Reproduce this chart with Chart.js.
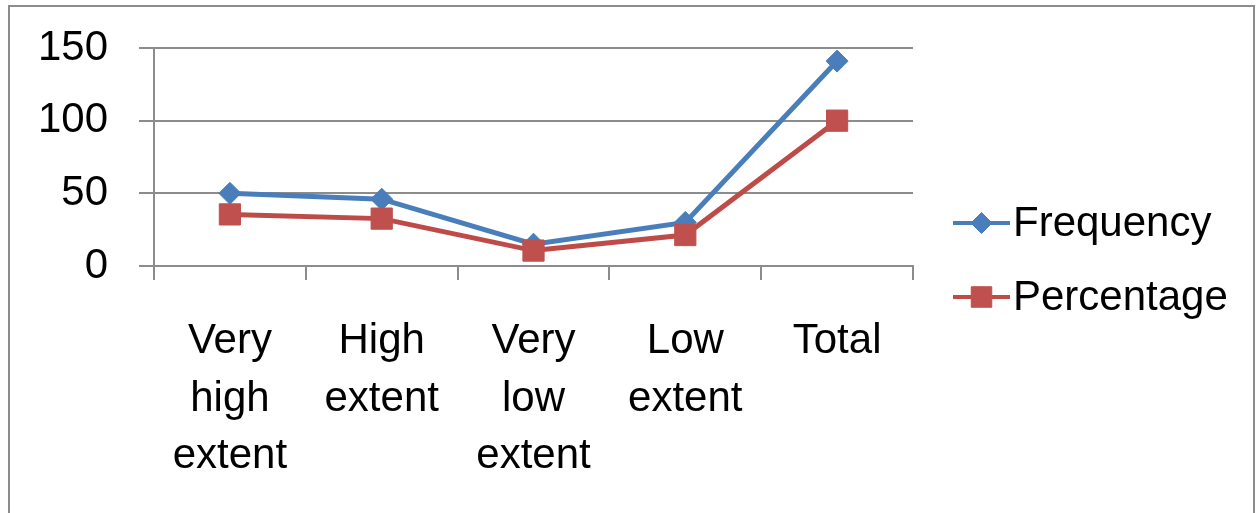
<!DOCTYPE html>
<html>
<head>
<meta charset="utf-8">
<script src="https://cdn.jsdelivr.net/npm/chart.js@4.4.0/dist/chart.umd.min.js"></script>
<style>
  html, body { margin: 0; padding: 0; background: #fff; overflow: hidden; width: 1257px; height: 513px; }
  #frame { position: absolute; left: 8px; top: 5px; width: 1243px; height: 600px; border: 2px solid #8c8c8c; box-sizing: content-box; }
  #wrap { position: absolute; left: 0; top: 0; width: 1257px; height: 513px; }
</style>
</head>
<body>
<div id="frame"></div>
<div id="wrap"><canvas id="c" width="1257" height="513"></canvas></div>
<script>
// Response categories (multi-line axis labels)
const categories = [
  ['Very', 'high', 'extent'],
  ['High', 'extent'],
  ['Very', 'low', 'extent'],
  ['Low', 'extent'],
  ['Total']
];
// Series values
const frequency = [50, 46, 15, 30, 141];
const percentage = [35.5, 32.6, 10.6, 21.3, 100];
// Value axis ticks
const yTicks = [0, 50, 100, 150];

const FONT = '"Liberation Sans", Arial, sans-serif';
const GRID = '#8c8c8c';
const BLUE = '#4A7EBB';
const RED = '#BE4B48';

// Legend drawn beside the plot: line sample with marker, then the series name
const sideLegend = {
  id: 'sideLegend',
  afterDraw(chart) {
    const ctx = chart.ctx;
    const area = chart.chartArea;
    const x0 = area.right + 40;
    chart.data.datasets.forEach((ds, i) => {
      const y = 223 + i * 74;
      ctx.save();
      ctx.strokeStyle = ds.borderColor;
      ctx.lineWidth = 4;
      ctx.lineCap = 'butt';
      ctx.beginPath();
      ctx.moveTo(x0, y);
      ctx.lineTo(x0 + 57, y);
      ctx.stroke();
      ctx.fillStyle = ds.pointBackgroundColor;
      ctx.strokeStyle = ds.pointBorderColor;
      ctx.lineWidth = 1;
      Chart.helpers.drawPoint(ctx, { pointStyle: ds.pointStyle, radius: ds.pointRadius - 0.5, borderWidth: 1, rotation: 0 }, x0 + 28.5, y);
      ctx.fillStyle = '#000';
      ctx.font = '42px ' + FONT;
      ctx.textBaseline = 'alphabetic';
      ctx.textAlign = 'left';
      ctx.fillText(ds.label, x0 + 60, y + 12.5);
      ctx.restore();
    });
  }
};

new Chart(document.getElementById('c'), {
  type: 'line',
  data: {
    labels: categories,
    datasets: [
      {
        label: 'Frequency',
        data: frequency,
        borderColor: BLUE,
        backgroundColor: BLUE,
        borderWidth: 5,
        pointStyle: 'rectRot',
        pointRadius: 11,
        pointHoverRadius: 11,
        pointBackgroundColor: BLUE,
        pointBorderColor: BLUE,
        pointBorderWidth: 1,
        tension: 0,
        order: 1
      },
      {
        label: 'Percentage',
        data: percentage,
        borderColor: RED,
        backgroundColor: '#C0504D',
        borderWidth: 5,
        pointStyle: 'rect',
        pointRadius: 15,
        pointHoverRadius: 15,
        pointBackgroundColor: '#C0504D',
        pointBorderColor: '#C0504D',
        pointBorderWidth: 1,
        tension: 0,
        order: 0
      }
    ]
  },
  options: {
    responsive: false,
    animation: false,
    events: [],
    layout: { padding: { left: 0, top: 48, right: 344, bottom: 0 } },
    plugins: {
      legend: { display: false },
      tooltip: { enabled: false }
    },
    scales: {
      x: {
        type: 'category',
        offset: true,
        grid: {
          offset: true,
          drawOnChartArea: false,
          drawTicks: true,
          tickLength: 14,
          color: GRID,
          lineWidth: 2
        },
        border: { display: true, color: GRID, width: 2 },
        ticks: {
          color: '#000',
          font: { family: FONT, size: 42, lineHeight: 1.37 },
          padding: 33,
          maxRotation: 0,
          autoSkip: false
        },
        afterFit(scale) { scale.height = 513 - 266; }
      },
      y: {
        min: yTicks[0],
        max: yTicks[yTicks.length - 1],
        afterBuildTicks(scale) { scale.ticks = yTicks.map(v => ({ value: v })); },
        grid: {
          drawTicks: true,
          tickLength: 15,
          color: GRID,
          lineWidth: 2
        },
        border: { display: true, color: GRID, width: 2 },
        ticks: {
          color: '#000',
          font: { family: FONT, size: 42 },
          padding: 31
        },
        afterFit(scale) {
          scale.width = 154;
          scale.paddingTop = 0;
          scale.paddingBottom = 0;
        }
      }
    }
  },
  plugins: [sideLegend]
});
</script>
</body>
</html>
